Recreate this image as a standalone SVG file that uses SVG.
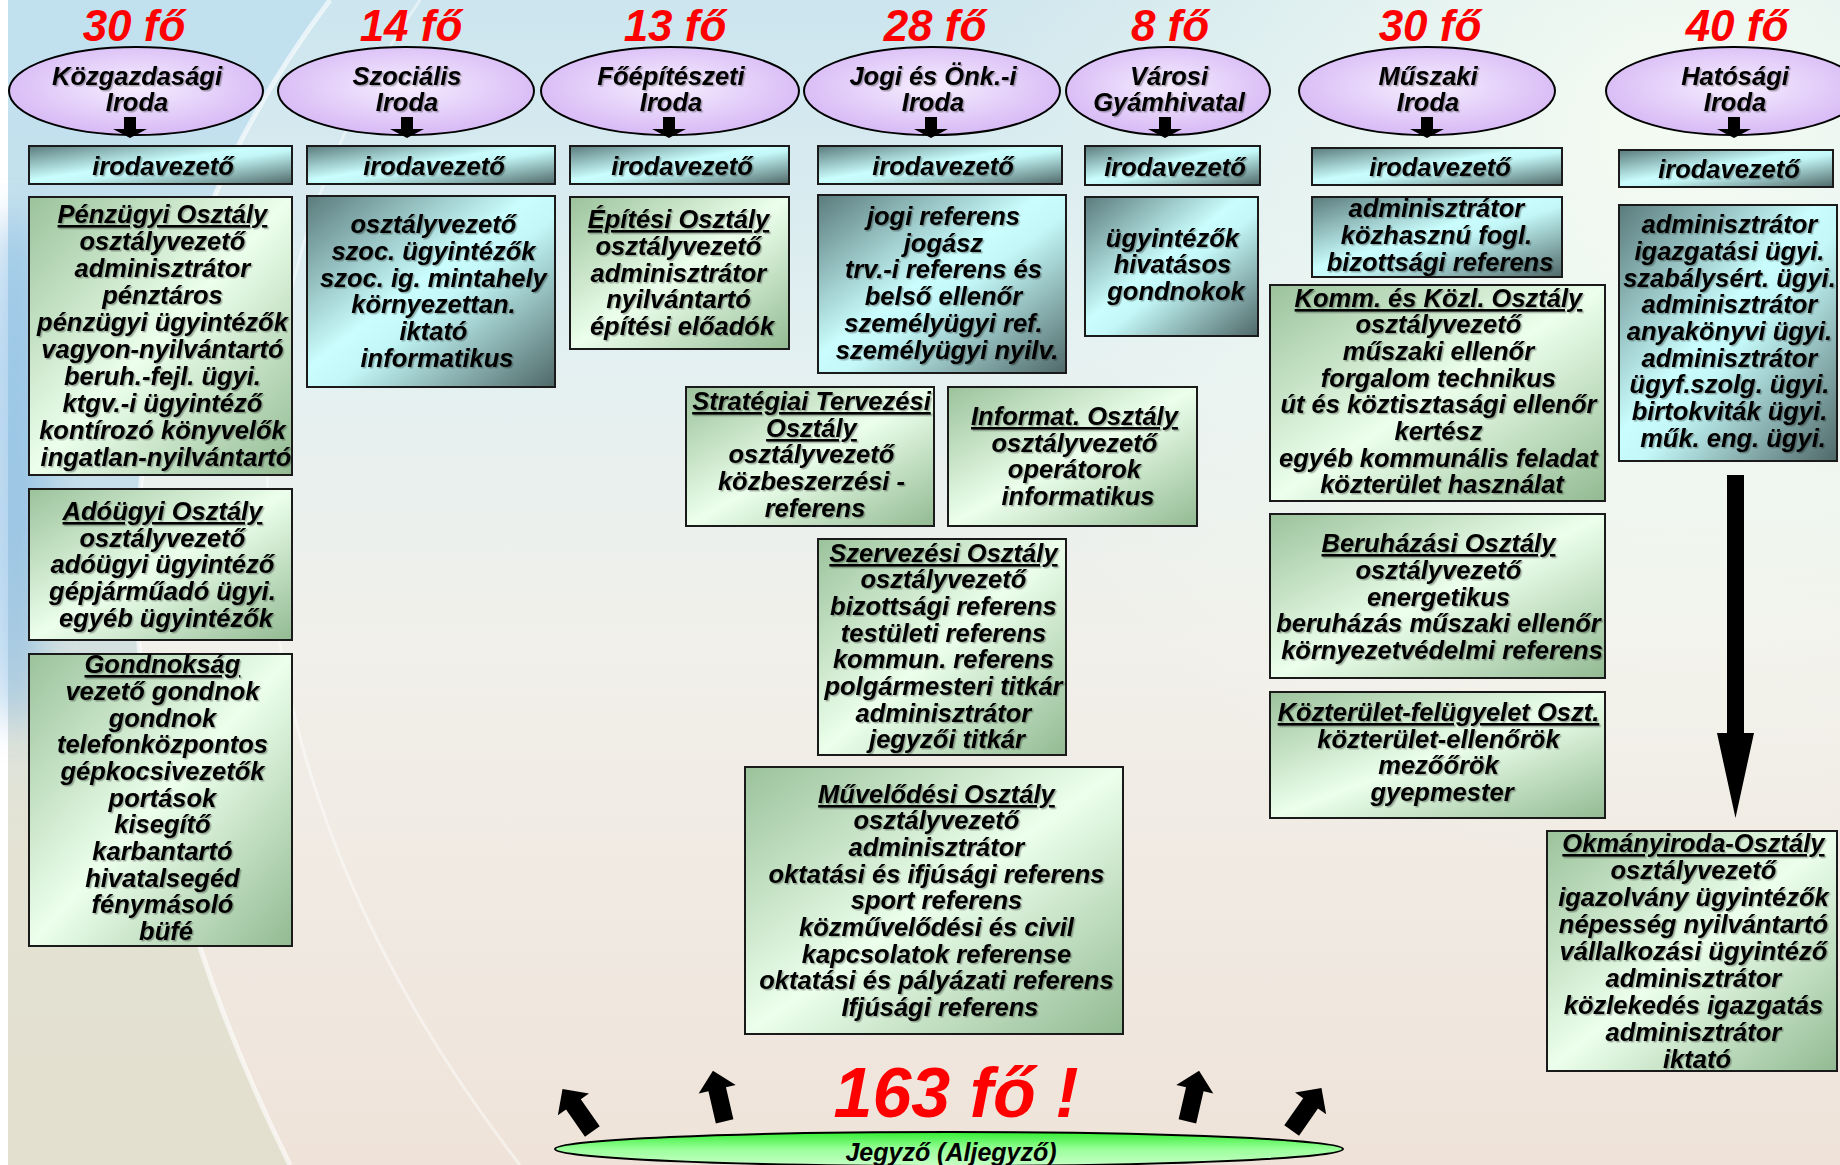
<svg xmlns="http://www.w3.org/2000/svg" width="1840" height="1165" viewBox="0 0 1840 1165">
  <defs>
    <linearGradient id="bg" x1="0" y1="0" x2="0" y2="1">
      <stop offset="0" stop-color="#cce5ee"/>
      <stop offset="0.3" stop-color="#e3f0f1"/>
      <stop offset="0.55" stop-color="#f1f0ea"/>
      <stop offset="1" stop-color="#efe3d9"/>
    </linearGradient>
    <radialGradient id="bgGlow" cx="1680" cy="120" r="760" gradientUnits="userSpaceOnUse">
      <stop offset="0" stop-color="#f6fcf2" stop-opacity="0.95"/>
      <stop offset="1" stop-color="#f6fcf2" stop-opacity="0"/>
    </radialGradient>
    <linearGradient id="bgLeft" x1="0" y1="0" x2="0" y2="1">
      <stop offset="0" stop-color="#b8dcef"/>
      <stop offset="0.45" stop-color="#a9cfe6"/>
      <stop offset="0.7" stop-color="#d8dcc8"/>
      <stop offset="1" stop-color="#d9dcc6"/>
    </linearGradient>
    <radialGradient id="oval" cx="0.5" cy="0.45" r="0.55">
      <stop offset="0" stop-color="#f6eeff"/>
      <stop offset="1" stop-color="#d7b9f5"/>
    </radialGradient>
    <linearGradient id="cyan" x1="0" y1="0" x2="1" y2="1">
      <stop offset="0" stop-color="#5a7b7c"/>
      <stop offset="0.45" stop-color="#cafdfd"/>
      <stop offset="0.55" stop-color="#c4f8f8"/>
      <stop offset="1" stop-color="#4f6868"/>
    </linearGradient>
    <linearGradient id="green" x1="0" y1="0" x2="1" y2="1">
      <stop offset="0" stop-color="#9bc29b"/>
      <stop offset="0.5" stop-color="#ecffec"/>
      <stop offset="1" stop-color="#92ba92"/>
    </linearGradient>
    <linearGradient id="lime" x1="0" y1="0" x2="0" y2="1">
      <stop offset="0" stop-color="#33ee33"/>
      <stop offset="0.5" stop-color="#99ff99"/>
      <stop offset="1" stop-color="#c8ffc8"/>
    </linearGradient>
    <filter id="shade" x="-5%" y="-5%" width="110%" height="120%">
      <feDropShadow dx="1.5" dy="1.5" stdDeviation="0.6" flood-color="#000" flood-opacity="0.3"/>
    </filter>
    <filter id="soft" x="-50%" y="-50%" width="200%" height="200%">
      <feGaussianBlur stdDeviation="18"/>
    </filter>
    <!-- block arrow pointing up, centred on its middle -->
    <path id="blockArrow" d="M0,-27 L19,-8 L9,-8 L9,25 L-9,25 L-9,-8 L-19,-8 Z"/>
  </defs>
  <style>
    text { font-family: "Liberation Sans", Arial, sans-serif; font-weight: bold; font-style: italic; text-anchor: middle; fill: #000; }
    .t { font-size: 25.5px; filter: url(#shade); }
    .h { text-decoration: underline; }
    .count { font-size: 44px; fill: #ff0000; }
    .big { font-size: 70px; }
    .oval { fill: url(#oval); stroke: #000; stroke-width: 2; }
    .lbl { font-size: 25.5px; }
    .cy { fill: url(#cyan); stroke: #1a1a1a; stroke-width: 2; }
    .gr { fill: url(#green); stroke: #1a1a1a; stroke-width: 2; }
    .arr { fill: #000; }
  </style>

  <!-- background -->
  <rect width="1840" height="1165" fill="#ffffff"/>
  <rect x="8" y="0" width="1832" height="1165" fill="url(#bg)"/>
  <rect x="8" y="0" width="1832" height="1165" fill="url(#bgGlow)"/>
  <path d="M8,0 L330,0 C140,250 30,640 290,1165 L8,1165 Z" fill="url(#bgLeft)" opacity="0.55"/>
  <ellipse cx="14" cy="470" rx="34" ry="260" fill="#7fb6e2" opacity="0.6" filter="url(#soft)"/>
  <path d="M330,0 C140,250 30,640 290,1165" fill="none" stroke="#ffffff" stroke-width="5" opacity="0.6"/>
  <path d="M420,0 C240,260 160,700 520,1165" fill="none" stroke="#ffffff" stroke-width="3" opacity="0.45"/>

  <!-- head counts -->
  <g id="counts">
    <text class="count" x="134" y="41">30 fő</text>
    <text class="count" x="411" y="41">14 fő</text>
    <text class="count" x="675" y="41">13 fő</text>
    <text class="count" x="935" y="41">28 fő</text>
    <text class="count" x="1170" y="41">8 fő</text>
    <text class="count" x="1430" y="41">30 fő</text>
    <text class="count" x="1737" y="41">40 fő</text>
  </g>

  <!-- offices -->
  <g id="iroda-kozgazdasagi">
    <ellipse class="oval" cx="136" cy="91" rx="127" ry="44"/>
    <text class="lbl t"><tspan x="137" y="85">Közgazdasági</tspan><tspan x="137" y="111">Iroda</tspan></text>
  </g>
  <g id="iroda-szocialis">
    <ellipse class="oval" cx="406" cy="91" rx="128" ry="44"/>
    <text class="lbl t"><tspan x="407" y="85">Szociális</tspan><tspan x="407" y="111">Iroda</tspan></text>
  </g>
  <g id="iroda-foepiteszeti">
    <ellipse class="oval" cx="670" cy="91" rx="129" ry="44"/>
    <text class="lbl t"><tspan x="671" y="85">Főépítészeti</tspan><tspan x="671" y="111">Iroda</tspan></text>
  </g>
  <g id="iroda-jogi">
    <ellipse class="oval" cx="932" cy="91" rx="128" ry="44"/>
    <text class="lbl t"><tspan x="933" y="85">Jogi és Önk.-i</tspan><tspan x="933" y="111">Iroda</tspan></text>
  </g>
  <g id="iroda-gyamhivatal">
    <ellipse class="oval" cx="1168" cy="91" rx="102" ry="44"/>
    <text class="lbl t"><tspan x="1169" y="85">Városi</tspan><tspan x="1169" y="111">Gyámhivatal</tspan></text>
  </g>
  <g id="iroda-muszaki">
    <ellipse class="oval" cx="1427" cy="91" rx="128" ry="44"/>
    <text class="lbl t"><tspan x="1428" y="85">Műszaki</tspan><tspan x="1428" y="111">Iroda</tspan></text>
  </g>
  <g id="iroda-hatosagi">
    <ellipse class="oval" cx="1734" cy="91" rx="128" ry="44"/>
    <text class="lbl t"><tspan x="1735" y="85">Hatósági</tspan><tspan x="1735" y="111">Iroda</tspan></text>
  </g>

  <!-- office leaders -->
  <g id="vezeto-1"><rect class="cy" x="29" y="146" width="263" height="38"/><text class="t" x="163" y="175">irodavezető</text></g>
  <g id="vezeto-2"><rect class="cy" x="307" y="146" width="248" height="38"/><text class="t" x="434" y="175">irodavezető</text></g>
  <g id="vezeto-3"><rect class="cy" x="570" y="146" width="219" height="38"/><text class="t" x="682" y="175">irodavezető</text></g>
  <g id="vezeto-4"><rect class="cy" x="818" y="146" width="244" height="38"/><text class="t" x="943" y="175">irodavezető</text></g>
  <g id="vezeto-5"><rect class="cy" x="1085" y="146" width="175" height="39"/><text class="t" x="1175" y="176">irodavezető</text></g>
  <g id="vezeto-6"><rect class="cy" x="1312" y="148" width="250" height="37"/><text class="t" x="1440" y="176">irodavezető</text></g>
  <g id="vezeto-7"><rect class="cy" x="1619" y="150" width="214" height="37"/><text class="t" x="1729" y="178">irodavezető</text></g>

  <!-- departments: column 1 -->
  <g id="penzugyi">
    <rect class="gr" x="29" y="197" width="263" height="278"/>
    <text class="t">
      <tspan class="h" x="166" y="223">Pénzügyi Osztály</tspan>
      <tspan x="166" y="250">osztályvezető</tspan>
      <tspan x="166" y="277">adminisztrátor</tspan>
      <tspan x="166" y="304">pénztáros</tspan>
      <tspan x="166" y="331">pénzügyi ügyintézők</tspan>
      <tspan x="166" y="358">vagyon-nyilvántartó</tspan>
      <tspan x="166" y="385">beruh.-fejl. ügyi.</tspan>
      <tspan x="166" y="412">ktgv.-i ügyintéző</tspan>
      <tspan x="166" y="439">kontírozó könyvelők</tspan>
      <tspan x="166" y="466">ingatlan-nyilvántartó</tspan>
    </text>
  </g>
  <g id="adougyi">
    <rect class="gr" x="29" y="489" width="263" height="151"/>
    <text class="t">
      <tspan class="h" x="166" y="520">Adóügyi Osztály</tspan>
      <tspan x="166" y="547">osztályvezető</tspan>
      <tspan x="166" y="573">adóügyi ügyintéző</tspan>
      <tspan x="166" y="600">gépjárműadó ügyi.</tspan>
      <tspan x="166" y="627">egyéb ügyintézők</tspan>
    </text>
  </g>
  <g id="gondnoksag">
    <rect class="gr" x="29" y="654" width="263" height="292"/>
    <text class="t">
      <tspan class="h" x="166" y="673">Gondnokság</tspan>
      <tspan x="166" y="700">vezető gondnok</tspan>
      <tspan x="166" y="727">gondnok</tspan>
      <tspan x="166" y="753">telefonközpontos</tspan>
      <tspan x="166" y="780">gépkocsivezetők</tspan>
      <tspan x="166" y="807">portások</tspan>
      <tspan x="166" y="833">kisegítő</tspan>
      <tspan x="166" y="860">karbantartó</tspan>
      <tspan x="166" y="887">hivatalsegéd</tspan>
      <tspan x="166" y="913">fénymásoló</tspan>
      <tspan x="166" y="940">büfé</tspan>
    </text>
  </g>

  <!-- column 2 -->
  <g id="szocialis-munkatarsak">
    <rect class="cy" x="307" y="196" width="248" height="191"/>
    <text class="t">
      <tspan x="437" y="233">osztályvezető</tspan>
      <tspan x="437" y="260">szoc. ügyintézők</tspan>
      <tspan x="437" y="287">szoc. ig. mintahely</tspan>
      <tspan x="437" y="313">környezettan.</tspan>
      <tspan x="437" y="340">iktató</tspan>
      <tspan x="437" y="367">informatikus</tspan>
    </text>
  </g>

  <!-- column 3 -->
  <g id="epitesi">
    <rect class="gr" x="570" y="197" width="219" height="152"/>
    <text class="t">
      <tspan class="h" x="682" y="228">Építési Osztály</tspan>
      <tspan x="682" y="255">osztályvezető</tspan>
      <tspan x="682" y="282">adminisztrátor</tspan>
      <tspan x="682" y="308">nyilvántartó</tspan>
      <tspan x="682" y="335">építési előadók</tspan>
    </text>
  </g>

  <!-- column 4 -->
  <g id="jogi-munkatarsak">
    <rect class="cy" x="818" y="195" width="248" height="178"/>
    <text class="t">
      <tspan x="947" y="225">jogi referens</tspan>
      <tspan x="947" y="252">jogász</tspan>
      <tspan x="947" y="278">trv.-i referens és</tspan>
      <tspan x="947" y="305">belső ellenőr</tspan>
      <tspan x="947" y="332">személyügyi ref.</tspan>
      <tspan x="947" y="359">személyügyi nyilv.</tspan>
    </text>
  </g>
  <g id="strategiai">
    <rect class="gr" x="686" y="387" width="248" height="139"/>
    <text class="t">
      <tspan class="h" x="815" y="410">Stratégiai Tervezési</tspan>
      <tspan class="h" x="815" y="437">Osztály</tspan>
      <tspan x="815" y="463">osztályvezető</tspan>
      <tspan x="815" y="490">közbeszerzési -</tspan>
      <tspan x="815" y="517">referens</tspan>
    </text>
  </g>
  <g id="informat">
    <rect class="gr" x="948" y="387" width="249" height="139"/>
    <text class="t">
      <tspan class="h" x="1078" y="425">Informat. Osztály</tspan>
      <tspan x="1078" y="452">osztályvezető</tspan>
      <tspan x="1078" y="478">operátorok</tspan>
      <tspan x="1078" y="505">informatikus</tspan>
    </text>
  </g>
  <g id="szervezesi">
    <rect class="gr" x="818" y="539" width="248" height="216"/>
    <text class="t">
      <tspan class="h" x="947" y="562">Szervezési Osztály</tspan>
      <tspan x="947" y="588">osztályvezető</tspan>
      <tspan x="947" y="615">bizottsági referens</tspan>
      <tspan x="947" y="642">testületi referens</tspan>
      <tspan x="947" y="668">kommun. referens</tspan>
      <tspan x="947" y="695">polgármesteri titkár</tspan>
      <tspan x="947" y="722">adminisztrátor</tspan>
      <tspan x="947" y="748">jegyzői titkár</tspan>
    </text>
  </g>
  <g id="muvelodesi">
    <rect class="gr" x="745" y="767" width="378" height="267"/>
    <text class="t">
      <tspan class="h" x="940" y="803">Művelődési Osztály</tspan>
      <tspan x="940" y="829">osztályvezető</tspan>
      <tspan x="940" y="856">adminisztrátor</tspan>
      <tspan x="940" y="883">oktatási és ifjúsági referens</tspan>
      <tspan x="940" y="909">sport referens</tspan>
      <tspan x="940" y="936">közművelődési és civil</tspan>
      <tspan x="940" y="963">kapcsolatok referense</tspan>
      <tspan x="940" y="989">oktatási és pályázati referens</tspan>
      <tspan x="940" y="1016">Ifjúsági referens</tspan>
    </text>
  </g>

  <!-- column 5 -->
  <g id="gyamhivatal-munkatarsak">
    <rect class="cy" x="1085" y="197" width="173" height="139"/>
    <text class="t">
      <tspan x="1176" y="247">ügyintézők</tspan>
      <tspan x="1176" y="273">hivatásos</tspan>
      <tspan x="1176" y="300">gondnokok</tspan>
    </text>
  </g>

  <!-- column 6 -->
  <g id="muszaki-munkatarsak">
    <rect class="cy" x="1312" y="197" width="250" height="80"/>
    <text class="t">
      <tspan x="1440" y="217">adminisztrátor</tspan>
      <tspan x="1440" y="244">közhasznú fogl.</tspan>
      <tspan x="1440" y="271">bizottsági referens</tspan>
    </text>
  </g>
  <g id="komm-kozl">
    <rect class="gr" x="1270" y="285" width="335" height="216"/>
    <text class="t">
      <tspan class="h" x="1442" y="307">Komm. és Közl. Osztály</tspan>
      <tspan x="1442" y="333">osztályvezető</tspan>
      <tspan x="1442" y="360">műszaki ellenőr</tspan>
      <tspan x="1442" y="387">forgalom technikus</tspan>
      <tspan x="1442" y="413">út és köztisztasági ellenőr</tspan>
      <tspan x="1442" y="440">kertész</tspan>
      <tspan x="1442" y="467">egyéb kommunális feladat</tspan>
      <tspan x="1442" y="493">közterület használat</tspan>
    </text>
  </g>
  <g id="beruhazasi">
    <rect class="gr" x="1270" y="514" width="335" height="164"/>
    <text class="t">
      <tspan class="h" x="1442" y="552">Beruházási Osztály</tspan>
      <tspan x="1442" y="579">osztályvezető</tspan>
      <tspan x="1442" y="606">energetikus</tspan>
      <tspan x="1442" y="632">beruházás műszaki ellenőr</tspan>
      <tspan x="1442" y="659">környezetvédelmi referens</tspan>
    </text>
  </g>
  <g id="kozterulet">
    <rect class="gr" x="1270" y="692" width="335" height="126"/>
    <text class="t">
      <tspan class="h" x="1442" y="721">Közterület-felügyelet Oszt.</tspan>
      <tspan x="1442" y="748">közterület-ellenőrök</tspan>
      <tspan x="1442" y="774">mezőőrök</tspan>
      <tspan x="1442" y="801">gyepmester</tspan>
    </text>
  </g>

  <!-- column 7 -->
  <g id="hatosagi-munkatarsak">
    <rect class="cy" x="1619" y="205" width="218" height="256"/>
    <text class="t">
      <tspan x="1733" y="233">adminisztrátor</tspan>
      <tspan x="1733" y="260">igazgatási ügyi.</tspan>
      <tspan x="1733" y="287">szabálysért. ügyi.</tspan>
      <tspan x="1733" y="313">adminisztrátor</tspan>
      <tspan x="1733" y="340">anyakönyvi ügyi.</tspan>
      <tspan x="1733" y="367">adminisztrátor</tspan>
      <tspan x="1733" y="393">ügyf.szolg. ügyi.</tspan>
      <tspan x="1733" y="420">birtokviták ügyi.</tspan>
      <tspan x="1733" y="447">műk. eng. ügyi.</tspan>
    </text>
  </g>
  <g id="okmanyiroda">
    <rect class="gr" x="1547" y="831" width="290" height="240"/>
    <text class="t">
      <tspan class="h" x="1697" y="852">Okmányiroda-Osztály</tspan>
      <tspan x="1697" y="879">osztályvezető</tspan>
      <tspan x="1697" y="906">igazolvány ügyintézők</tspan>
      <tspan x="1697" y="933">népesség nyilvántartó</tspan>
      <tspan x="1697" y="960">vállalkozási ügyintéző</tspan>
      <tspan x="1697" y="987">adminisztrátor</tspan>
      <tspan x="1697" y="1014">közlekedés igazgatás</tspan>
      <tspan x="1697" y="1041">adminisztrátor</tspan>
      <tspan x="1697" y="1068">iktató</tspan>
    </text>
  </g>

  <!-- notary -->
  <g id="jegyzo">
    <ellipse cx="949" cy="1149" rx="394" ry="17" fill="url(#lime)" stroke="#000" stroke-width="2"/>
    <text x="951" y="1161" font-size="25">Jegyző (Aljegyző)</text>
  </g>
  <g id="total">
    <text class="count big" x="956" y="1117">163 fő !</text>
  </g>

  <!-- connectors -->
  <g id="connectors">
    <g class="arr">
      <path d="M124,117 h12 v12 h11 l-17,9 l-17,-9 h11 z"/>
      <path d="M401,117 h12 v12 h11 l-17,9 l-17,-9 h11 z"/>
      <path d="M663,117 h12 v12 h11 l-17,9 l-17,-9 h11 z"/>
      <path d="M925,117 h12 v12 h11 l-17,9 l-17,-9 h11 z"/>
      <path d="M1159,117 h12 v12 h11 l-17,9 l-17,-9 h11 z"/>
      <path d="M1421,117 h12 v12 h11 l-17,9 l-17,-9 h11 z"/>
      <path d="M1728,117 h12 v12 h11 l-17,9 l-17,-9 h11 z"/>
    </g>
    <path class="arr" d="M1727,475 h17 v258 h10 l-18.5,85 l-18.5,-85 h10 z"/>
    <use href="#blockArrow" class="arr" transform="translate(578,1111) rotate(-35)"/>
    <use href="#blockArrow" class="arr" transform="translate(719,1097) rotate(-13)"/>
    <use href="#blockArrow" class="arr" transform="translate(1193,1097) rotate(13)"/>
    <use href="#blockArrow" class="arr" transform="translate(1306,1110) rotate(35)"/>
  </g>
</svg>
